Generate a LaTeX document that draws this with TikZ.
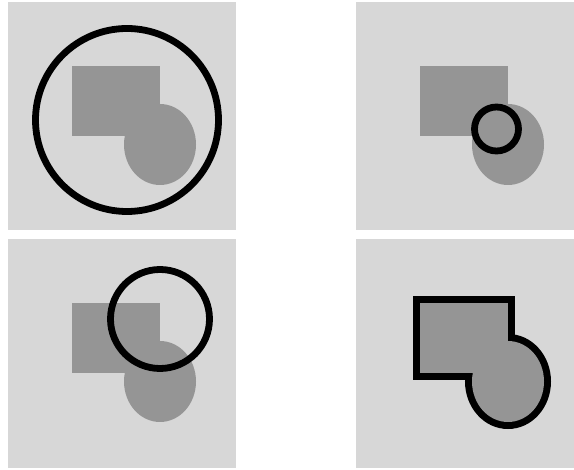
\documentclass[tikz,border=0pt]{standalone}
\usepackage{tikz}
\usepackage{xcolor}
\definecolor{panelgray}{HTML}{D7D7D7}
\definecolor{blobgray}{HTML}{959595}

\begin{document}
\begin{tikzpicture}[
    x=1pt, y=-1pt,
    panelBg/.style={fill=panelgray},
    blobFill/.style={fill=blobgray},
    ringLine/.style={draw=black, line width=6.8pt},
    haloLine/.style={draw=black, line width=14pt}
]
    \useasboundingbox (0,0) rectangle (574,470);

    % Panel 1: large ring around the shape
    \fill[panelBg] (8,2) rectangle (236,230);
    \fill[blobFill] (72,66) rectangle (160,136);
    \fill[blobFill] (160,144.5) ellipse [x radius=36, y radius=40.5];
    \draw[ringLine] (127,120) circle [radius=91.5];

    % Panel 2: small ring on the shape
    \begin{scope}[shift={(348,0)}]
        \fill[panelBg] (8,2) rectangle (226,230);
        \fill[blobFill] (72,66) rectangle (160,136);
        \fill[blobFill] (160,144.5) ellipse [x radius=36, y radius=40.5];
        \draw[ringLine] (148.5,129) circle [radius=22];
    \end{scope}

    % Panel 3: ring partly over the shape
    \begin{scope}[shift={(0,237)}]
        \fill[panelBg] (8,2) rectangle (236,231);
        \fill[blobFill] (72,66) rectangle (160,136);
        \fill[blobFill] (160,144.5) ellipse [x radius=36, y radius=40.5];
        \draw[ringLine] (160,82) circle [radius=49.5];
    \end{scope}

    % Panel 4: shape with its outline
    \begin{scope}[shift={(348,237)}]
        \fill[panelBg] (8,2) rectangle (226,231);
        \draw[haloLine] (72,66) rectangle (160,136);
        \draw[haloLine] (160,144.5) ellipse [x radius=36, y radius=40.5];
        \fill[blobFill] (72,66) rectangle (160,136);
        \fill[blobFill] (160,144.5) ellipse [x radius=36, y radius=40.5];
    \end{scope}

\end{tikzpicture}
\end{document}
